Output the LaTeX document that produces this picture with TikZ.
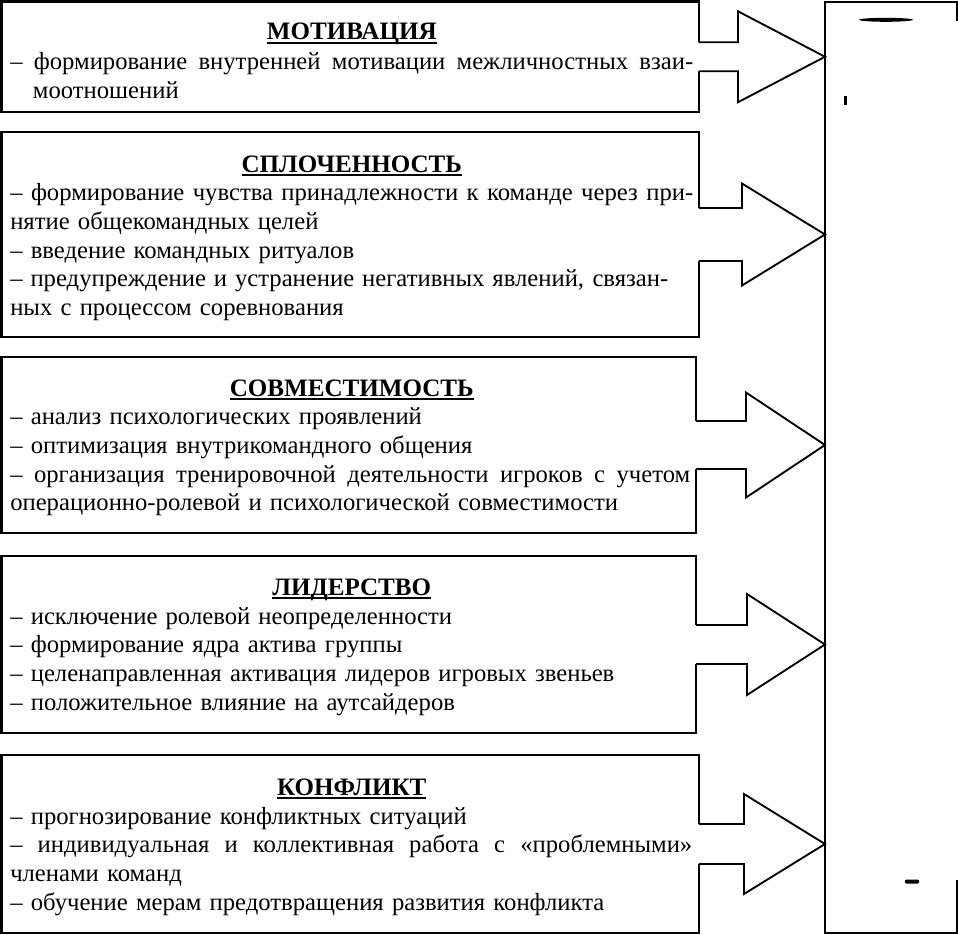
\documentclass[tikz,border=0pt]{standalone}
\usepackage{fontspec}
\setmainfont{Liberation Serif}
\usetikzlibrary{calc}
\newcommand{\jl}[2][\linewidth]{\leavevmode\hbox to #1{\spaceskip=\fontdimen2\font plus 1fil\relax #2}}
\newcommand{\ttl}[1]{\makebox[\linewidth][c]{\fontsize{18.8pt}{21.56pt}\bfseries\setbox0\hbox{#1}\rlap{\rule[-2.7pt]{\wd0}{1.5pt}}\box0}}
\newcommand{\barr}[4]{%
  \fill[white] ($(#1.east)+(-1.4,-#2)$) -- ($(#1.east)+(#4,-#2)$) -- ($(#1.east)+(#4,-#3)$) -- (T.west |- #1.east) -- ($(#1.east)+(#4,#3)$) -- ($(#1.east)+(#4,#2)$) -- ($(#1.east)+(-1.4,#2)$) -- cycle;
  \draw[arr] ($(#1.east)+(0,-#2)$) -- ($(#1.east)+(#4,-#2)$) -- ($(#1.east)+(#4,-#3)$) -- (T.west |- #1.east) -- ($(#1.east)+(#4,#3)$) -- ($(#1.east)+(#4,#2)$) -- ($(#1.east)+(0,#2)$);}
\begin{document}
\begin{tikzpicture}[x=0.75pt,y=-0.75pt,
  box/.style={draw,line width=1.5pt,inner sep=0pt,outer sep=0pt,anchor=north west},
  arr/.style={draw,line width=1.4pt,line join=miter},
  txt/.style={anchor=base west,inner sep=0pt,text width=512.25pt,align=left,font={\fontsize{18.5pt}{21.56pt}\selectfont\lineskiplimit=-100pt\relax}},
  tgt/.style={inner sep=0pt,outer sep=0pt,anchor=north west}]
\useasboundingbox (0,0) rectangle (958,935);

% boxes
\node[box,minimum width=523.1pt,minimum height=82.9pt] (b1) at (1.5,1.5) {};
\node[box,minimum width=523.1pt,minimum height=153.75pt] (b2) at (1.5,132) {};
\node[box,minimum width=520.9pt,minimum height=132pt] (b3) at (1.5,357) {};
\node[box,minimum width=520.9pt,minimum height=132.75pt] (b4) at (1.5,556) {};
\node[box,minimum width=523.1pt,minimum height=133.5pt] (b5) at (1.5,755) {};

% target
\node[tgt,minimum width=99pt,minimum height=698.25pt] (T) at (825,2) {};
\draw[line width=1.5pt] (957,21) -- (T.north east) -- (T.north west) -- (T.south west) -- (T.south east) -- (957,880);
\fill (886,19.8) ellipse [x radius=20.25pt, y radius=1.5pt];
\fill (843.5,96) rectangle (846.5,104.5);
\fill[rounded corners=0.8pt] (905,879.5) rectangle (919,883.5);

% block arrows
\barr{b1}{14.5}{45.5}{39}
\barr{b2}{26.5}{51}{43}
\barr{b3}{24}{52.5}{50}
\barr{b4}{19.5}{50.5}{51}
\barr{b5}{20}{50}{45}

% texts
\node[txt] (t1) at (10,40) {\ttl{МОТИВАЦИЯ}\\[0.6pt]
\jl{– формирование внутренней мотивации межличностных взаи-}\\
\hspace*{17pt}моотношений};

\node[txt] (t2) at (10,172) {\ttl{СПЛОЧЕННОСТЬ}\\
\jl{– формирование чувства принадлежности к команде через при-}\\
нятие общекомандных целей\\
– введение командных ритуалов\\
\jl[493.5pt]{– предупреждение и устранение негативных явлений, связан-}\\
ных с процессом соревнования};

\node[txt] (t3) at (10,396) {\ttl{СОВМЕСТИМОСТЬ}\\
– анализ психологических проявлений\\
– оптимизация внутрикомандного общения\\
\jl[510pt]{– организация тренировочной деятельности игроков с учетом}\\
операционно-ролевой и психологической совместимости};

\node[txt] (t4) at (10,595.5) {\ttl{ЛИДЕРСТВО}\\
– исключение ролевой неопределенности\\
– формирование ядра актива группы\\
– целенаправленная активация лидеров игровых звеньев\\
– положительное влияние на аутсайдеров};

\node[txt] (t5) at (10,795.5) {\ttl{КОНФЛИКТ}\\
– прогнозирование конфликтных ситуаций\\
\jl[511.5pt]{– индивидуальная и коллективная работа с «проблемными»}\\
членами команд\\
– обучение мерам предотвращения развития конфликта};
\end{tikzpicture}
\end{document}
